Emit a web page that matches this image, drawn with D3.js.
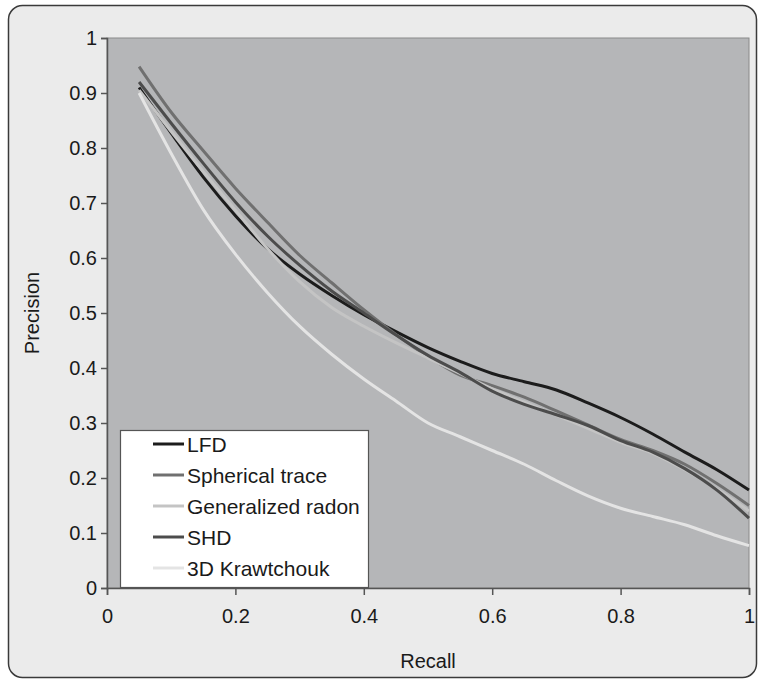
<!DOCTYPE html>
<html lang="en">
<head>
  <meta charset="UTF-8">
  <script src="https://d3js.org/d3.v7.min.js"></script>
  <style>
    body {
      margin: 0;
      padding: 0;
      background: #fff;
      font-family: "Liberation Sans", Arial, sans-serif;
    }
  </style>
</head>
<body>
  <script>
    // recall values shared by every series
    const recall = [0.05, 0.1, 0.15, 0.2, 0.25, 0.3, 0.35, 0.4, 0.45, 0.5,
                    0.55, 0.6, 0.65, 0.7, 0.75, 0.8, 0.85, 0.9, 0.95, 1.0];

    const lfd        = [0.91, 0.827, 0.747, 0.677, 0.617, 0.571, 0.532, 0.497, 0.466, 0.437,
                        0.412, 0.39, 0.375, 0.36, 0.336, 0.31, 0.28, 0.247, 0.215, 0.178];
    const sphTrace   = [0.948, 0.865, 0.795, 0.727, 0.665, 0.605, 0.555, 0.506, 0.461, 0.421,
                        0.387, 0.368, 0.347, 0.322, 0.296, 0.27, 0.25, 0.225, 0.19, 0.15];
    const genRadon   = [0.905, 0.83, 0.757, 0.687, 0.617, 0.557, 0.51, 0.476, 0.446, 0.418,
                        0.39, 0.362, 0.338, 0.314, 0.29, 0.265, 0.245, 0.215, 0.18, 0.14];
    const shd        = [0.92, 0.845, 0.772, 0.702, 0.64, 0.587, 0.54, 0.5, 0.46, 0.423,
                        0.392, 0.358, 0.334, 0.315, 0.295, 0.268, 0.247, 0.217, 0.178, 0.127];
    const krawtchouk = [0.90, 0.79, 0.688, 0.607, 0.537, 0.476, 0.425, 0.38, 0.34, 0.30,
                        0.275, 0.25, 0.225, 0.195, 0.167, 0.145, 0.13, 0.115, 0.095, 0.077];

    const seriesNames = ['LFD', 'Spherical trace', 'Generalized radon', 'SHD', '3D Krawtchouk'];
    const seriesValues = [lfd, sphTrace, genRadon, shd, krawtchouk];
    const seriesColors = ['#1c1c1c', '#707070', '#c4c4c4', '#4c4c4c', '#e4e4e4'];

    const xTicks = [0, 0.2, 0.4, 0.6, 0.8, 1];
    const yTicks = [0, 0.1, 0.2, 0.3, 0.4, 0.5, 0.6, 0.7, 0.8, 0.9, 1];

    const width = 762, height = 683;
    const plot = { left: 107, right: 749, top: 38, bottom: 588 };

    const svg = d3.select('body').append('svg')
      .attr('width', width)
      .attr('height', height);

    // outer frame
    svg.append('rect')
      .attr('x', 8.5).attr('y', 5.5)
      .attr('width', 748).attr('height', 672)
      .attr('rx', 14).attr('ry', 14)
      .attr('fill', '#ebebeb')
      .attr('stroke', '#3a3a3a')
      .attr('stroke-width', 1.5);

    const x = d3.scaleLinear().domain([0, 1]).range([plot.left, plot.right]);
    const y = d3.scaleLinear().domain([0, 1]).range([plot.bottom, plot.top]);

    // plot area
    svg.append('rect')
      .attr('x', plot.left).attr('y', plot.top)
      .attr('width', plot.right - plot.left)
      .attr('height', plot.bottom - plot.top)
      .attr('fill', '#b5b6b8')
      .attr('stroke', '#8a8a8a')
      .attr('stroke-width', 1);

    const fontSize = 20;

    // y axis
    const yAxis = svg.append('g')
      .attr('transform', `translate(${plot.left},0)`)
      .call(d3.axisLeft(y).tickValues(yTicks).tickFormat(d3.format('~g')).tickSize(6).tickPadding(4));
    // x axis
    const xAxis = svg.append('g')
      .attr('transform', `translate(0,${plot.bottom})`)
      .call(d3.axisBottom(x).tickValues(xTicks).tickFormat(d3.format('~g')).tickSize(7).tickPadding(14));

    [xAxis, yAxis].forEach(ax => {
      ax.select('.domain').attr('stroke', '#555').attr('stroke-width', 1.5);
      ax.selectAll('.tick line').attr('stroke', '#555').attr('stroke-width', 1.5);
      ax.selectAll('.tick text')
        .attr('fill', '#1a1a1a')
        .style('font-size', fontSize + 'px')
        .style('font-family', '"Liberation Sans", Arial, sans-serif');
    });

    // lines
    const line = d3.line()
      .x((d, i) => x(recall[i]))
      .y(d => y(d))
      .curve(d3.curveMonotoneX);

    svg.append('g')
      .selectAll('path')
      .data(seriesValues)
      .enter().append('path')
      .attr('d', d => line(d))
      .attr('fill', 'none')
      .attr('stroke', (d, i) => seriesColors[i])
      .attr('stroke-width', 3)
      .attr('stroke-linejoin', 'round');

    // legend
    const legend = svg.append('g');
    legend.append('rect')
      .attr('x', 120.5).attr('y', 430.5)
      .attr('width', 248).attr('height', 157)
      .attr('fill', '#fff')
      .attr('stroke', '#555')
      .attr('stroke-width', 1.2);

    const items = legend.selectAll('g.item')
      .data(seriesNames)
      .enter().append('g')
      .attr('transform', (d, i) => `translate(0,${444 + i * 31})`);

    items.append('line')
      .attr('x1', 153).attr('x2', 184)
      .attr('y1', 0).attr('y2', 0)
      .attr('stroke', (d, i) => seriesColors[i])
      .attr('stroke-width', 3);

    items.append('text')
      .attr('x', 187)
      .attr('y', 0)
      .attr('dy', '0.36em')
      .attr('fill', '#1a1a1a')
      .style('font-size', '21px')
      .text(d => d);

    // axis titles
    svg.append('text')
      .attr('transform', `translate(39,${(plot.top + plot.bottom) / 2}) rotate(-90)`)
      .attr('text-anchor', 'middle')
      .attr('fill', '#1a1a1a')
      .style('font-size', '20px')
      .text('Precision');

    svg.append('text')
      .attr('x', (plot.left + plot.right) / 2)
      .attr('y', 668)
      .attr('text-anchor', 'middle')
      .attr('fill', '#1a1a1a')
      .style('font-size', '20px')
      .text('Recall');
  </script>
</body>
</html>
